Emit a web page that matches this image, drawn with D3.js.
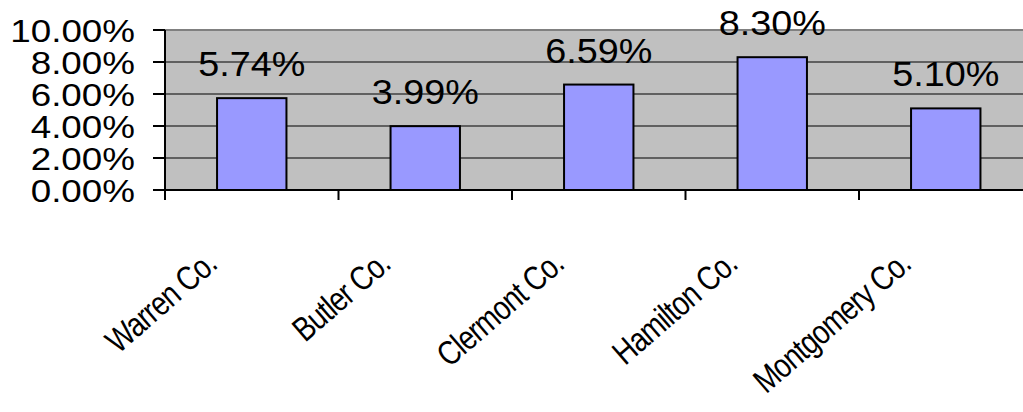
<!DOCTYPE html>
<meta charset="utf-8">
<style>
    body { margin: 0; background: #fff; overflow: hidden; }
    text { font-family: "Liberation Sans", Arial, sans-serif; fill: #000; }
</style>
<svg id="canvas" width="1023" height="412"></svg>
<script src="https://d3js.org/d3.v7.min.js"></script>
<script>

    var counties = ["Warren Co.", "Butler Co.", "Clermont Co.", "Hamilton Co.", "Montgomery Co."];
    var rates = [5.74, 3.99, 6.59, 8.30, 5.10];
    var yTicks = [0, 2, 4, 6, 8, 10];

    var svg = d3.select("svg");

    var plotLeft = 165, plotRight = 1032.5, plotTop = 30, plotBottom = 190;

    var slot = d3.scaleBand().domain(counties).range([plotLeft, plotRight]).padding(0);
    var x = d3.scaleBand().domain(counties).range([plotLeft, plotRight])
              .paddingInner(0.6).paddingOuter(0.3);
    var y = d3.scaleLinear().domain([0, 10]).range([plotBottom, plotTop]);

    // plot area
    svg.append("rect")
       .attr("x", plotLeft).attr("y", plotTop)
       .attr("width", plotRight - plotLeft).attr("height", plotBottom - plotTop)
       .attr("fill", "#c0c0c0");

    svg.append("line")
       .attr("x1", plotLeft).attr("x2", plotRight)
       .attr("y1", plotTop).attr("y2", plotTop)
       .attr("stroke", "#808080").attr("stroke-width", 2);

    // gridlines
    svg.append("g").selectAll("line")
       .data(yTicks.filter(function(d) { return d > 0 && d < 10; }))
       .enter().append("line")
       .attr("x1", plotLeft).attr("x2", plotRight)
       .attr("y1", function(d) { return y(d); })
       .attr("y2", function(d) { return y(d); })
       .attr("stroke", "#000").attr("stroke-width", 1);

    // bars
    svg.append("g").selectAll("rect")
       .data(rates)
       .enter().append("rect")
       .attr("x", function(d, i) { return x(counties[i]); })
       .attr("y", function(d) { return y(d); })
       .attr("width", x.bandwidth())
       .attr("height", function(d) { return y(0) - y(d); })
       .attr("fill", "#9999ff")
       .attr("stroke", "#000").attr("stroke-width", 2);

    // value labels
    svg.append("g").selectAll("text")
       .data(rates)
       .enter().append("text")
       .attr("transform", function(d, i) {
           return "translate(" + (x(counties[i]) + x.bandwidth() / 2) + "," + (y(d) - 22) + ") scale(1.08,1)";
       })
       .attr("text-anchor", "middle")
       .style("font-size", "35px")
       .text(function(d) { return d.toFixed(2) + "%"; });

    // y axis
    var yAxis = svg.append("g");
    yAxis.append("line")
         .attr("x1", plotLeft).attr("x2", plotLeft)
         .attr("y1", plotTop).attr("y2", plotBottom)
         .attr("stroke", "#000").attr("stroke-width", 2);
    yAxis.selectAll(".tick").data(yTicks).enter().append("line")
         .attr("x1", plotLeft - 12).attr("x2", plotLeft)
         .attr("y1", function(d) { return y(d); })
         .attr("y2", function(d) { return y(d); })
         .attr("stroke", "#000").attr("stroke-width", 2);
    yAxis.selectAll("text").data(yTicks).enter().append("text")
         .attr("transform", function(d) { return "translate(" + (plotLeft - 30) + "," + y(d) + ") scale(1.15,1)"; })
         .attr("text-anchor", "end")
         .attr("dy", "0.36em")
         .style("font-size", "32px")
         .text(function(d) { return d.toFixed(2) + "%"; });

    // x axis
    var xAxis = svg.append("g");
    xAxis.append("line")
         .attr("x1", plotLeft - 12).attr("x2", plotRight)
         .attr("y1", plotBottom).attr("y2", plotBottom)
         .attr("stroke", "#000").attr("stroke-width", 2);
    xAxis.selectAll(".tick").data(counties).enter().append("line")
         .attr("x1", function(d) { return slot(d); })
         .attr("x2", function(d) { return slot(d); })
         .attr("y1", plotBottom).attr("y2", plotBottom + 10)
         .attr("stroke", "#000").attr("stroke-width", 2);
    xAxis.selectAll("text").data(counties).enter().append("text")
         .attr("transform", function(d) {
             return "translate(" + (slot(d) + slot.bandwidth() / 2 - 33) + ",267) rotate(-41) scale(0.82,1)";
         })
         .attr("text-anchor", "end")
         .style("font-size", "34px")
         .style("letter-spacing", "-1px")
         .text(function(d) { return d; });

</script>
